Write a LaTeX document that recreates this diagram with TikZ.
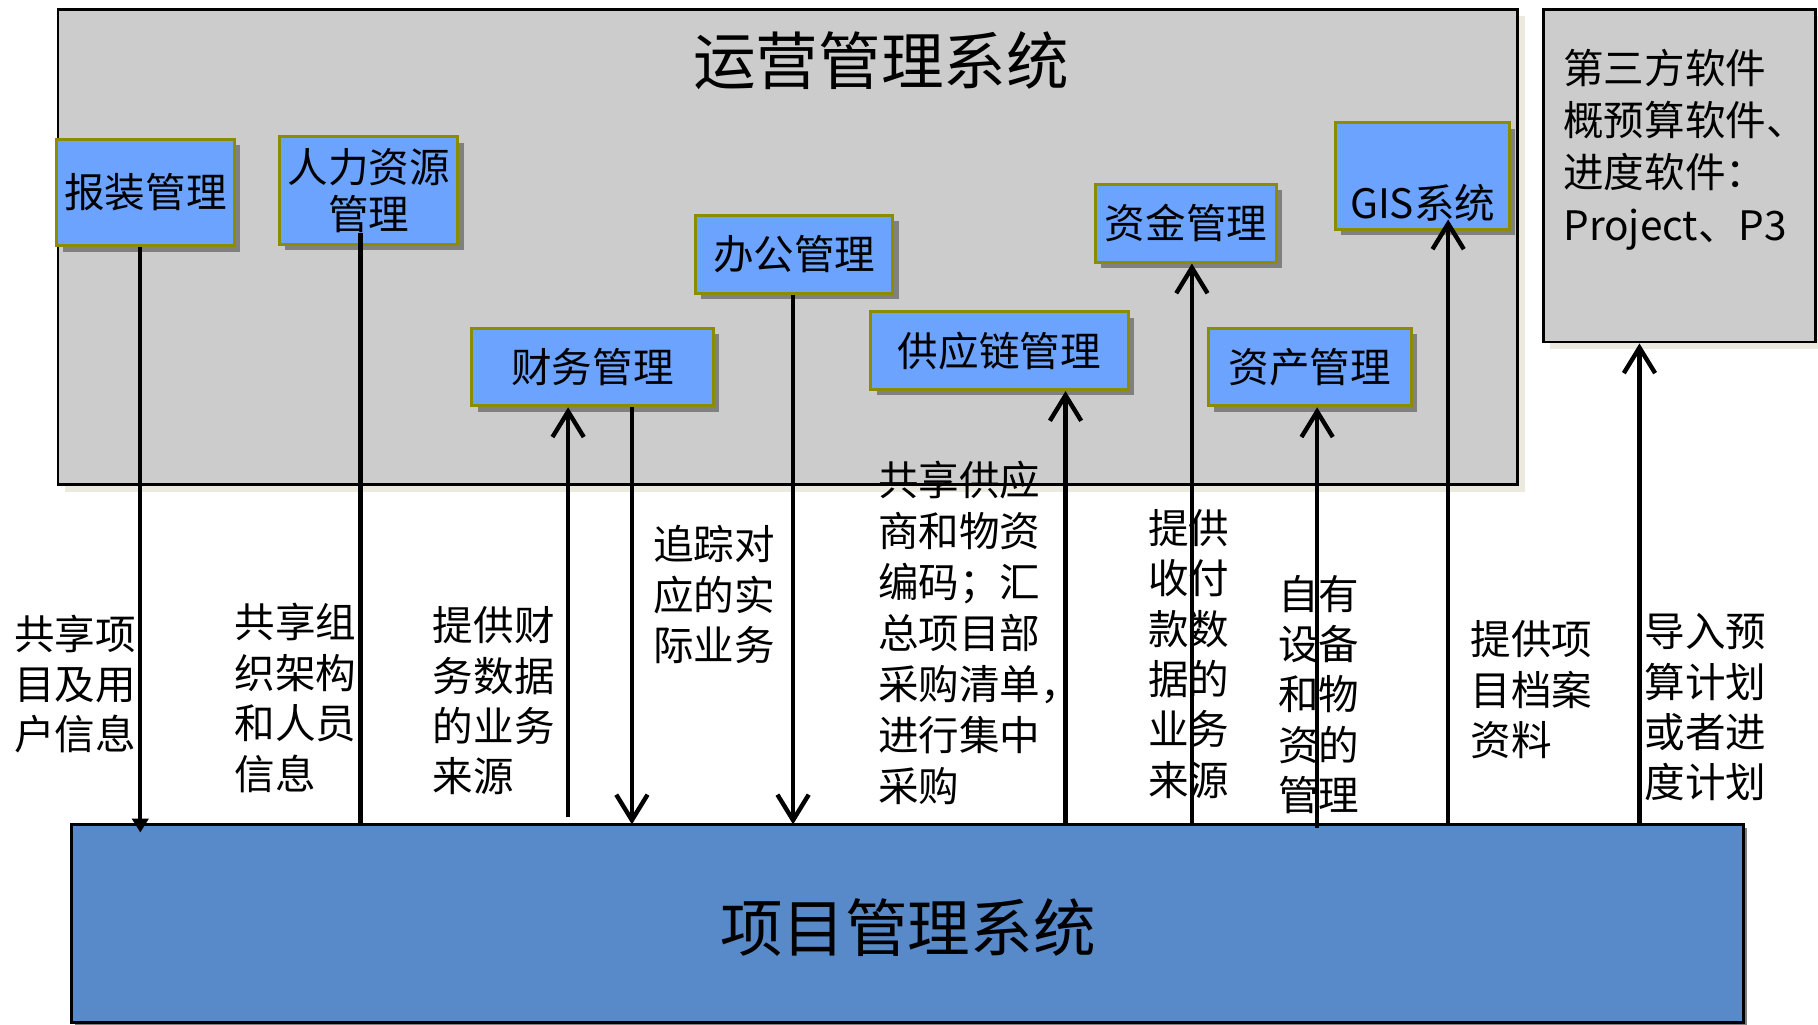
\documentclass[tikz,border=0pt]{standalone}
\usepackage{fontspec}
\setmainfont{Noto Sans CJK SC}
\usetikzlibrary{arrows.meta,shadows,calc}
\definecolor{opsgray}{HTML}{CCCCCC}
\definecolor{modfill}{HTML}{6BA3FF}
\definecolor{modline}{HTML}{8C8C00}
\definecolor{pmfill}{HTML}{5889C8}
\definecolor{beigesh}{HTML}{ECEADF}
\definecolor{shgray}{HTML}{808080}
\begin{document}
\begin{tikzpicture}[x=0.5pt,y=-0.5pt,
  bigbox/.style={draw=black, line width=1.2pt, fill=opsgray, inner sep=0pt,
    general shadow={fill=beigesh, shadow xshift=3pt, shadow yshift=-3pt}},
  pmbox/.style={draw=black, line width=1.2pt, fill=pmfill, inner sep=0pt,
    general shadow={fill=shgray, shadow xshift=1.5pt, shadow yshift=-1.5pt}},
  module/.style={draw=modline, line width=1.3pt, fill=modfill, inner sep=0pt, align=center,
    font=\fontsize{17.5pt}{20.5pt}\selectfont,
    general shadow={fill=shgray, shadow xshift=2.5pt, shadow yshift=-2.5pt}},
  title/.style={font=\fontsize{27pt}{32pt}\selectfont, inner sep=0pt},
  lbl/.style={anchor=west, align=left, inner sep=0pt, font=\fontsize{17.5pt}{21.75pt}\selectfont},
  conn/.style={line width=1.9pt, -{Straight Barb[length=11pt,width=13.5pt]}},
  tri/.style={line width=1.9pt, -{Triangle[length=6pt,width=7pt]}},
  plain/.style={line width=1.9pt}]
\useasboundingbox (0,0) rectangle (1568,884);

% big boxes
\node[bigbox, minimum width=629.5pt, minimum height=205pt] (ops) at (679.5,213) {};
\node[title] (opst) at (760,52) {运营管理系统};
\node[bigbox, minimum width=117.5pt, minimum height=143.5pt] (tp) at (1448.5,151.5) {};
\node[lbl, font=\fontsize{17.5pt}{22.5pt}\selectfont] (tpt) at (1348,129) {第三方软件\\概预算软件、\\进度软件：\\Project、P3};
\node[pmbox, minimum width=721pt, minimum height=85.5pt] (pm) at (783,796.5) {};
\node[title] (pmt) at (783,800) {项目管理系统};

% modules
\node[module, minimum width=76.5pt, minimum height=46pt] (bz) at (125.5,166) {报装管理};
\node[module, minimum width=77pt, minimum height=46.5pt] (rl) at (318,164.5) {人力资源\\管理};
\node[module, minimum width=85pt, minimum height=33.5pt] (bg) at (685,219.5) {办公管理};
\node[module, minimum width=104pt, minimum height=33.5pt] (cw) at (511,316.5) {财务管理};
\node[module, minimum width=111pt, minimum height=33.5pt] (gy) at (862,302.5) {供应链管理};
\node[module, minimum width=78pt, minimum height=33.5pt] (zj) at (1023,192.5) {资金管理};
\node[module, minimum width=87.5pt, minimum height=33.5pt] (zc) at (1129.5,316.5) {资产管理};
\node[module, minimum width=75pt, minimum height=46pt] (gis) at (1227,152) {};
\node[inner sep=0pt, font=\fontsize{17.5pt}{20.5pt}\selectfont] (gist) at (1227,175) {GIS系统};

% connector end points on the project system
\coordinate (p1) at (121,718);
\coordinate (p2) at (311,711);
\coordinate (p3) at (490,705);
\coordinate (p4) at (545,711);
\coordinate (p5) at (684,711);
\coordinate (p6) at (919,711);
\coordinate (p7) at (1028,711);
\coordinate (p8) at (1136,714);
\coordinate (p9) at (1249,711);
\coordinate (p10) at (1414,711);

% connectors
\draw[tri] (bz.south -| p1) -- (p1);
\draw[plain] ($(rl.south -| p2)+(0,-11)$) -- (p2);
\draw[conn] (p3) -- (cw.south -| p3);
\draw[conn] (cw.south -| p4) -- (p4);
\draw[conn] (bg.south -| p5) -- (p5);
\draw[conn] (p6) -- (gy.south -| p6);
\draw[conn] (p7) -- (zj.south -| p7);
\draw[conn] (p8) -- (zc.south -| p8);
\draw[conn] (p9) -- ($(gis.south -| p9)+(0,-10)$);
\draw[conn] (p10) -- (tp.south -| p10);

% labels
\node[lbl] (l1) at (12,590) {共享项\\目及用\\户信息};
\node[lbl] (l2) at (202,602) {共享组\\织架构\\和人员\\信息};
\node[lbl] (l3) at (373,604.5) {提供财\\务数据\\的业务\\来源};
\node[lbl] (l4) at (563,513) {追踪对\\应的实\\际业务};
\node[lbl, font=\fontsize{17.5pt}{22pt}\selectfont] (l5) at (757,546) {共享供应\\商和物资\\编码；汇\\总项目部\\采购清单，\\进行集中\\采购};
\node[lbl] (l6) at (990,564) {提供\\收付\\款数\\据的\\业务\\来源};
\node[lbl] (l7) at (1102,599) {自有\\设备\\和物\\资的\\管理};
\node[lbl] (l8) at (1268,595) {提供项\\目档案\\资料};
\node[lbl] (l9) at (1418,610) {导入预\\算计划\\或者进\\度计划};
\end{tikzpicture}
\end{document}
